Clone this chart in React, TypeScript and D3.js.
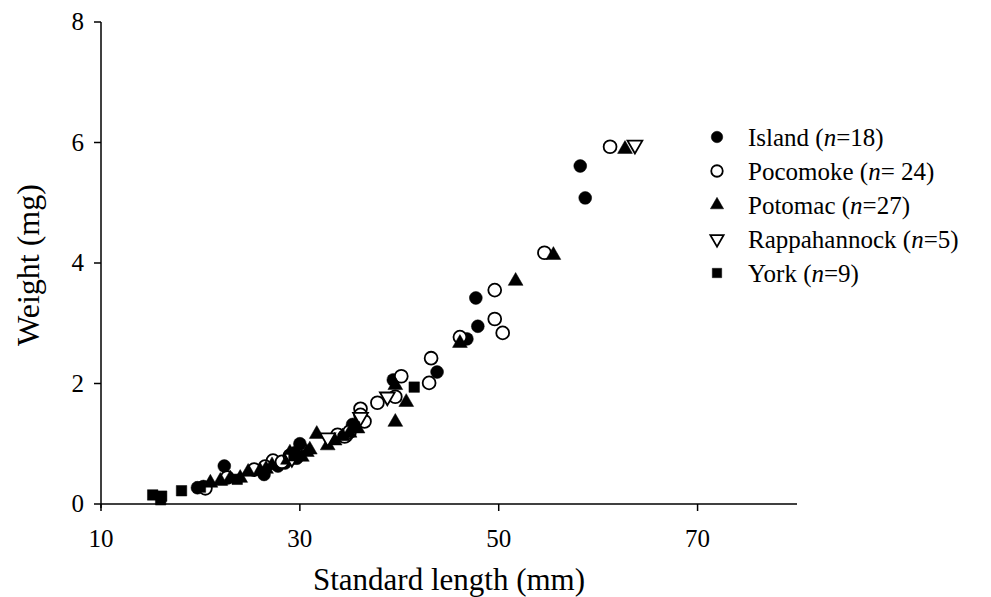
import React from "react";
import * as d3 from "d3";

const islandX = [22.4, 20.3, 26.4, 27.8, 28.5, 29.7, 30.0, 29.5, 34.7, 35.3, 39.4, 43.8, 46.8, 47.9, 47.7, 58.2, 58.7, 19.7];
const islandY = [0.63, 0.29, 0.49, 0.63, 0.68, 0.76, 1.0, 0.85, 1.13, 1.32, 2.06, 2.19, 2.74, 2.95, 3.42, 5.61, 5.08, 0.27];

const pocomokeX = [20.5, 22.7, 25.4, 27.3, 28.2, 29.0, 33.8, 34.5, 35.0, 36.1, 36.1, 36.5, 37.8, 39.6, 40.2, 43.0, 43.2, 46.1, 49.6, 50.4, 49.6, 54.6, 61.2, 26.5];
const pocomokeY = [0.26, 0.44, 0.57, 0.72, 0.7, 0.8, 1.15, 1.12, 1.2, 1.58, 1.48, 1.37, 1.68, 1.78, 2.12, 2.01, 2.42, 2.77, 3.07, 2.84, 3.55, 4.17, 5.93, 0.62];

const potomacX = [21.0, 23.0, 24.0, 24.8, 26.6, 27.2, 28.8, 29.5, 30.7, 31.7, 32.8, 33.5, 34.3, 35.8, 39.6, 40.7, 39.6, 46.1, 51.7, 55.5, 62.7, 29.0, 26.0, 31.0, 35.0, 30.2, 22.0];
const potomacY = [0.35, 0.42, 0.43, 0.53, 0.58, 0.64, 0.73, 0.8, 0.86, 1.16, 0.97, 1.05, 1.12, 1.25, 1.97, 1.69, 1.36, 2.67, 3.7, 4.13, 5.89, 0.85, 0.55, 0.9, 1.18, 0.78, 0.38];

const rappX = [32.8, 36.1, 38.8, 63.7, 29.2];
const rappY = [1.1, 1.44, 1.78, 5.96, 0.76];

const yorkX = [15.2, 16.1, 16.0, 18.1, 23.7, 29.4, 35.5, 41.5, 20.0];
const yorkY = [0.15, 0.13, 0.07, 0.22, 0.41, 0.8, 1.28, 1.94, 0.28];

const xTicks = [10, 30, 50, 70];
const yTicks = [0, 2, 4, 6, 8];

const seriesNames = ["Island", "Pocomoke", "Potomac", "Rappahannock", "York"];
const seriesN = ["=18", "= 24", "=27", "=5", "=9"];

type Kind = "fcircle" | "ocircle" | "ftri" | "otriDown" | "fsquare";
const kinds: Kind[] = ["fcircle", "ocircle", "ftri", "otriDown", "fsquare"];

const FONT = "'Liberation Serif', 'Times New Roman', serif";

function symbolPath(kind: Kind, scale: number): string {
  const gen = d3.symbol();
  if (kind === "fcircle" || kind === "ocircle") return gen.type(d3.symbolCircle).size(130 * scale)()!;
  if (kind === "ftri" || kind === "otriDown") return gen.type(d3.symbolTriangle).size(95 * scale)()!;
  return gen.type(d3.symbolSquare).size(110 * scale)()!;
}

function Marker({ kind, x, y, scale = 1 }: { kind: Kind; x: number; y: number; scale?: number }) {
  const filled = kind === "fcircle" || kind === "ftri" || kind === "fsquare";
  const rot = kind === "otriDown" ? 180 : 0;
  return (
    <path
      d={symbolPath(kind, scale)}
      transform={`translate(${x},${y}) rotate(${rot})`}
      fill={filled ? "#000" : "#fff"}
      stroke="#000"
      strokeWidth={filled ? 0.5 : 1.8}
    />
  );
}

export default function App() {
  const W = 991;
  const H = 597;
  const x = d3.scaleLinear().domain([10, 80]).range([101, 797]);
  const y = d3.scaleLinear().domain([0, 8]).range([504, 22]);

  const data: [number[], number[]][] = [
    [islandX, islandY],
    [pocomokeX, pocomokeY],
    [potomacX, potomacY],
    [rappX, rappY],
    [yorkX, yorkY],
  ];

  const legendY0 = 137;
  const legendDy = 34;

  return (
    <svg width={W} height={H} style={{ position: "absolute", left: 0, top: 0, background: "#fff" }}>
      <rect width={W} height={H} fill="#fff" />
      <line x1={x(10)} x2={x(80)} y1={y(0)} y2={y(0)} stroke="#000" strokeWidth={1.5} />
      <line x1={x(10)} x2={x(10)} y1={y(0) + 4} y2={y(8)} stroke="#000" strokeWidth={1.5} />
      {xTicks.map((t) => (
        <g key={"xt" + t}>
          <line x1={x(t)} x2={x(t)} y1={y(0)} y2={y(0) + 7} stroke="#000" strokeWidth={1.5} />
          <text x={x(t)} y={y(0) + 43} textAnchor="middle" fontFamily={FONT} fontSize={25}>
            {t}
          </text>
        </g>
      ))}
      {yTicks.map((t) => (
        <g key={"yt" + t}>
          <line x1={x(10) - 7} x2={x(10)} y1={y(t)} y2={y(t)} stroke="#000" strokeWidth={1.5} />
          <text x={x(10) - 17} y={y(t) + 8} textAnchor="end" fontFamily={FONT} fontSize={25}>
            {t}
          </text>
        </g>
      ))}
      <text x={449} y={590} textAnchor="middle" fontFamily={FONT} fontSize={31}>
        Standard length (mm)
      </text>
      <text
        transform={`translate(39,${y(4) + 2}) rotate(-90)`}
        textAnchor="middle"
        fontFamily={FONT}
        fontSize={32}
      >
        Weight (mg)
      </text>
      {data.map(([xs, ys], si) =>
        xs.map((v, i) => <Marker key={`p${si}-${i}`} kind={kinds[si]} x={x(v)} y={y(ys[i])} />)
      )}
      {seriesNames.map((name, i) => (
        <g key={"lg" + i}>
          <Marker kind={kinds[i]} x={717} y={legendY0 + i * legendDy} scale={0.8} />
          <text x={748} y={legendY0 + i * legendDy + 9} fontFamily={FONT} fontSize={25}>
            {name} (<tspan fontStyle="italic">n</tspan>
            {seriesN[i]})
          </text>
        </g>
      ))}
    </svg>
  );
}
